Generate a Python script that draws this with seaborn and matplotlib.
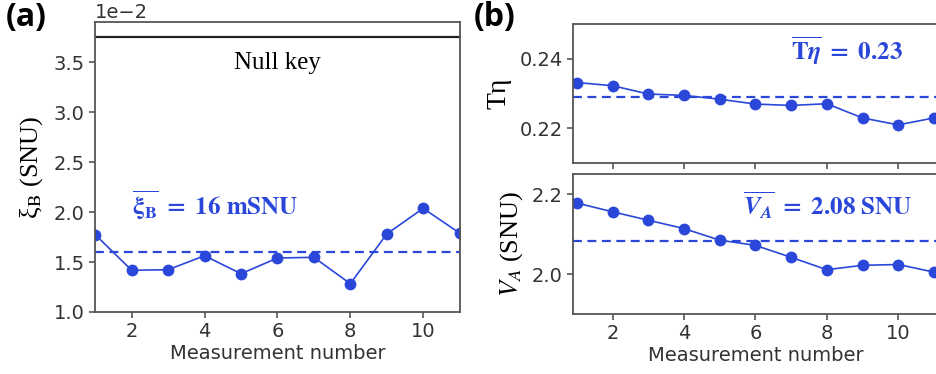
import numpy as np
import pandas as pd

import matplotlib.pyplot as plt
import seaborn as sns

# data
measurement = list(range(1, 12))
xi_b = [1.773, 1.417, 1.423, 1.563, 1.383, 1.540, 1.547, 1.283, 1.780, 2.037, 1.790]  # x 1e-2 SNU
xi_b_mean = 1.597
t_eta = [0.2331, 0.2322, 0.2298, 0.2294, 0.2283, 0.2269, 0.2265, 0.2270, 0.2229, 0.2209, 0.2229]
t_eta_mean = 0.2290
v_a = [2.178, 2.156, 2.135, 2.114, 2.085, 2.072, 2.042, 2.011, 2.022, 2.024, 2.005]
v_a_mean = 2.083

BLUE = "#2a47d9"
FRAME = "#555555"
TXT = "#333333"
SERIF = "Liberation Serif"


def analyze():
    sns.set_style("ticks")
    plt.rcParams["font.family"] = ["DejaVu Sans"]

    df = pd.DataFrame(
        {
            "n": measurement,
            "xi": np.array(xi_b) * 1e-2,
            "teta": t_eta,
            "va": v_a,
        }
    )

    fig = plt.figure(figsize=(9.36, 3.74), dpi=100)
    ax_a = fig.add_axes([0.1018, 0.1658, 0.3892, 0.775])
    ax_t = fig.add_axes([0.6125, 0.565, 0.3891, 0.371])
    ax_v = fig.add_axes([0.6125, 0.1604, 0.3891, 0.3736])

    line_kw = dict(color=BLUE, marker="o", markersize=8.5, linewidth=1.2,
                   markeredgewidth=0, clip_on=True)

    ######
    # (a) null key
    sns.lineplot(x="n", y="xi", data=df, ax=ax_a, **line_kw)
    ax_a.axhline(xi_b_mean * 1e-2, color=BLUE, ls="--", lw=1.6, dashes=(4, 2.5))
    ax_a.axhline(3.75e-2, color="#222222", lw=1.6)
    ax_a.set_xlim(1, 11)
    ax_a.set_ylim(0.010, 0.039)
    ax_a.set_yticks(np.arange(0.010, 0.0351, 0.005))
    ax_a.set_xticks([2, 4, 6, 8, 10])
    ax_a.ticklabel_format(axis="y", style="sci", scilimits=(-2, -2))
    ax_a.yaxis.get_offset_text().set_fontsize(14)
    ax_a.yaxis.get_offset_text().set_color(TXT)
    ax_a.set_xlabel("Measurement number", fontsize=14, color=TXT, labelpad=2)
    ax_a.set_ylabel(r"ξ$_\mathrm{B}$ (SNU)", fontsize=19, family=SERIF,
                    math_fontfamily="stix", labelpad=6, color="black")
    ax_a.text(6, 3.49e-2, "Null key", ha="center", va="center",
              fontsize=18, family=SERIF, color="black")
    ax_a.text(2.0, 2.07e-2, r"$\overline{\mathbf{\xi_B}}\ \mathbf{=\ 16\ mSNU}$",
              color=BLUE, fontsize=18, ha="left", va="center", math_fontfamily="stix")

    ######
    # (b) transmission
    sns.lineplot(x="n", y="teta", data=df, ax=ax_t, **line_kw)
    ax_t.axhline(t_eta_mean, color=BLUE, ls="--", lw=1.6, dashes=(4, 2.5))
    ax_t.set_xlim(0.9, 11.1)
    ax_t.set_ylim(0.21, 0.25)
    ax_t.set_yticks([0.22, 0.24])
    ax_t.set_xticks([2, 4, 6, 8, 10])
    ax_t.set_xticklabels([])
    ax_t.set_xlabel("")
    ax_t.set_ylabel("Tη", fontsize=20, family=SERIF, labelpad=6, color="black")
    ax_t.text(8.57, 0.2422, r"$\overline{\mathbf{T}\mathbfit{\eta}}\ \mathbf{=\ 0.23}$",
              color=BLUE, fontsize=18, ha="center", va="center", math_fontfamily="stix")

    # (b) variance
    sns.lineplot(x="n", y="va", data=df, ax=ax_v, **line_kw)
    ax_v.axhline(v_a_mean, color=BLUE, ls="--", lw=1.6, dashes=(4, 2.5))
    ax_v.set_xlim(0.9, 11.1)
    ax_v.set_ylim(1.9, 2.25)
    ax_v.set_yticks([2.0, 2.2])
    ax_v.set_xticks([2, 4, 6, 8, 10])
    ax_v.set_xlabel("Measurement number", fontsize=14, color=TXT, labelpad=2)
    ax_v.set_ylabel(r"$V_A$ (SNU)", fontsize=19, family=SERIF,
                    math_fontfamily="stix", labelpad=5, color="black")
    ax_v.text(8.02, 2.172, r"$\overline{\mathbfit{V_A}}\ \mathbf{=\ 2.08\ SNU}$",
              color=BLUE, fontsize=18, ha="center", va="center", math_fontfamily="stix")

    for ax in (ax_a, ax_t, ax_v):
        for s in ax.spines.values():
            s.set_color(FRAME)
            s.set_linewidth(1.3)
        ax.tick_params(labelsize=14, labelcolor=TXT, color=FRAME, length=4, width=1.2)

    fig.text(0.006, 0.952, "(a)", fontsize=23, fontweight="bold", family="Open Sans",
             ha="left", va="center", color="black")
    fig.text(0.506, 0.952, "(b)", fontsize=23, fontweight="bold", family="Open Sans",
             ha="left", va="center", color="black")

    fig.savefig("out.png", dpi=100)


analyze()
